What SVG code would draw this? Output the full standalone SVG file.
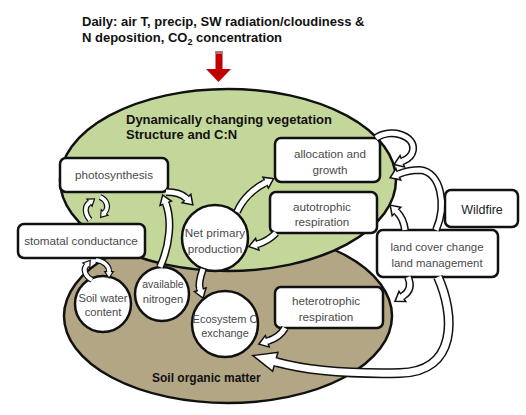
<svg xmlns="http://www.w3.org/2000/svg" width="526" height="415" viewBox="0 0 526 415">
<style>
.t{font-family:"Liberation Sans",Arial,sans-serif;font-weight:bold;fill:#111}
.bx{fill:#fff;stroke:#111;stroke-width:2.5}
.lb{font-family:"Liberation Sans",Arial,sans-serif;font-size:11.7px;fill:#4a4a4a;text-anchor:middle}
.o{fill:none;stroke:#111;stroke-width:8;marker-end:url(#hb)}
.i{fill:none;stroke:#fff;stroke-width:5;marker-end:url(#hw)}
.os{fill:none;stroke:#111;stroke-width:6;marker-end:url(#hbs)}
.is{fill:none;stroke:#fff;stroke-width:3.6;marker-end:url(#hws)}
.ob{fill:none;stroke:#111;stroke-width:10;marker-end:url(#hbb)}
.ib{fill:none;stroke:#fff;stroke-width:7;marker-end:url(#hwb)}
</style>
<defs>
<marker id="hb" markerUnits="userSpaceOnUse" orient="auto" refX="0" refY="0" markerWidth="1" markerHeight="1" overflow="visible"><polygon points="0,-7.5 0,7.5 11,0" fill="#111"/></marker>
<marker id="hw" markerUnits="userSpaceOnUse" orient="auto" refX="0" refY="0" markerWidth="1" markerHeight="1" overflow="visible"><polygon points="-1.5,-2.5 1.5,-2.5 1.5,-4.66 8.34,0 1.5,4.66 1.5,2.5 -1.5,2.5" fill="#fff"/></marker>
<marker id="hbs" markerUnits="userSpaceOnUse" orient="auto" refX="0" refY="0" markerWidth="1" markerHeight="1" overflow="visible"><polygon points="0,-5.5 0,5.5 8,0" fill="#111"/></marker>
<marker id="hws" markerUnits="userSpaceOnUse" orient="auto" refX="0" refY="0" markerWidth="1" markerHeight="1" overflow="visible"><polygon points="-1.2,-1.8 1.2,-1.8 1.2,-3.22 5.88,0 1.2,3.22 1.2,1.8 -1.2,1.8" fill="#fff"/></marker>
<marker id="hbb" markerUnits="userSpaceOnUse" orient="auto" refX="0" refY="0" markerWidth="1" markerHeight="1" overflow="visible"><polygon points="0,-11 0,11 26,0" fill="#111"/></marker>
<marker id="hwb" markerUnits="userSpaceOnUse" orient="auto" refX="0" refY="0" markerWidth="1" markerHeight="1" overflow="visible"><polygon points="-1.5,-3.5 1.5,-3.5 1.5,-8.74 22.14,0 1.5,8.74 1.5,3.5 -1.5,3.5" fill="#fff"/></marker>
</defs>
<rect width="526" height="415" fill="#fff"/>

<g id="title">
<text class="t" x="82" y="26" font-size="13">Daily: air T, precip, SW radiation/cloudiness &amp;</text>
<text class="t" x="82" y="42" font-size="13">N deposition, CO<tspan font-size="9" dy="3">2</tspan><tspan dy="-3"> concentration</tspan></text>
</g>
<g id="climate-arrow">
<rect x="215.5" y="51" width="7" height="19" fill="#c00000"/>
<rect x="215.5" y="51" width="7" height="3" fill="#b07070"/>
<polygon points="206,69 231,69 218.5,82" fill="#c00000"/>
</g>

<g id="soil">
<ellipse cx="228" cy="316" rx="164" ry="87" fill="#b3a684" stroke="#111" stroke-width="2.5"/>
<text class="t" x="152" y="382" font-size="12">Soil  organic matter</text>
</g>
<g id="vegetation">
<ellipse cx="228" cy="180" rx="168" ry="91" fill="#c4d79b" stroke="#111" stroke-width="2.5"/>
<text class="t" x="126" y="124" font-size="13">Dynamically changing vegetation</text>
<text class="t" x="126" y="139" font-size="13">Structure and C:N</text>
</g>

<g id="photosynthesis"><rect class="bx" x="60" y="158" width="108" height="34" rx="6"/><text class="lb" x="114" y="179">photosynthesis</text></g>
<g id="stomatal"><rect class="bx" x="18" y="224" width="127" height="34" rx="6"/><text class="lb" x="81" y="245">stomatal conductance</text></g>
<g id="allocation"><rect class="bx" x="275" y="138" width="105" height="44" rx="6"/><text class="lb" x="330" y="158">allocation and</text><text class="lb" x="330" y="174">growth</text></g>
<g id="autotrophic"><rect class="bx" x="270" y="192" width="107" height="41" rx="6"/><text class="lb" x="322" y="211">autotrophic</text><text class="lb" x="322" y="226">respiration</text></g>
<g id="wildfire"><rect class="bx" x="445" y="190" width="73" height="37" rx="6"/><text class="lb" x="482" y="214" style="font-size:12.5px;fill:#222">Wildfire</text></g>
<g id="landcover"><rect class="bx" x="377" y="230" width="121" height="47" rx="6"/><text class="lb" x="437" y="251" style="font-size:11.4px">land cover change</text><text class="lb" x="437" y="267" style="font-size:11.4px">land management</text></g>
<g id="heterotrophic"><rect class="bx" x="275" y="287" width="108" height="41" rx="6"/><text class="lb" x="326" y="305">heterotrophic</text><text class="lb" x="326" y="321">respiration</text></g>
<g id="npp"><circle class="bx" cx="215" cy="238" r="33"/><text class="lb" x="215" y="237">Net primary</text><text class="lb" x="215" y="253">production</text></g>
<g id="nitrogen"><circle class="bx" cx="162" cy="294" r="27"/><text class="lb" x="163" y="288" style="font-size:10.5px">available</text><text class="lb" x="163" y="303" style="font-size:11.2px">nitrogen</text></g>
<g id="soilwater"><circle class="bx" cx="103" cy="304" r="28"/><text class="lb" x="103" y="302" style="font-size:11.2px">Soil water</text><text class="lb" x="103" y="316" style="font-size:11.2px">content</text></g>
<g id="ecosystem"><circle class="bx" cx="225" cy="324" r="33"/><text class="lb" x="225" y="323" style="font-size:11px">Ecosystem C</text><text class="lb" x="225" y="337" style="font-size:11px">exchange</text></g>

<g id="connectors">
<path class="os" d="M90,220 C84,213 85,206 89,203"/><path class="is" d="M90,220 C84,213 85,206 89,203"/>
<path class="os" d="M100,197 C107,200 109,207 105,212"/><path class="is" d="M100,197 C107,200 109,207 105,212"/>
<path class="os" d="M92,280 C85,276 83,270 86,266"/><path class="is" d="M92,280 C85,276 83,270 86,266"/>
<path class="os" d="M96,260 C104,261 109,266 109,271"/><path class="is" d="M96,260 C104,261 109,266 109,271"/>
<path class="o" d="M160,267 C170,245 172,220 166,204"/><path class="i" d="M160,267 C170,245 172,220 166,204"/>
<path class="o" d="M166,192 C175,192 182,194 186,198"/><path class="i" d="M166,192 C175,192 182,194 186,198"/>
<path class="o" d="M237,212 C243,198 255,188 265,183"/><path class="i" d="M237,212 C243,198 255,188 265,183"/>
<path class="o" d="M276,233 C271,238 265,242 258,244"/><path class="i" d="M276,233 C271,238 265,242 258,244"/>
<path class="o" d="M203,269 C199,280 199,286 200,289"/><path class="i" d="M203,269 C199,280 199,286 200,289"/>
<path class="o" d="M285,328 C281,335 274,339 268,341"/><path class="i" d="M285,328 C281,335 274,339 268,341"/>
<path class="o" d="M408,277 C412,286 409,292 403,296"/><path class="i" d="M408,277 C412,286 409,292 403,296"/>
<path class="o" d="M405,230 C404,222 401,216 397,212"/><path class="i" d="M405,230 C404,222 401,216 397,212"/>
<path class="o" d="M436,230 C447,205 441,172 420,170 C413,170 406,171 399,174"/><path class="i" d="M436,230 C447,205 441,172 420,170 C413,170 406,171 399,174"/>
<path class="o" d="M376,138 C390,128 415,135 413,150 C412,156 408,159 403,161"/><path class="i" d="M376,138 C390,128 415,135 413,150 C412,156 408,159 403,161"/>
<path class="ob" d="M438,277 C455,315 458,372 400,373 C350,374 305,370 276,362"/><path class="ib" d="M438,277 C455,315 458,372 400,373 C350,374 305,370 276,362"/>
</g>
</svg>
